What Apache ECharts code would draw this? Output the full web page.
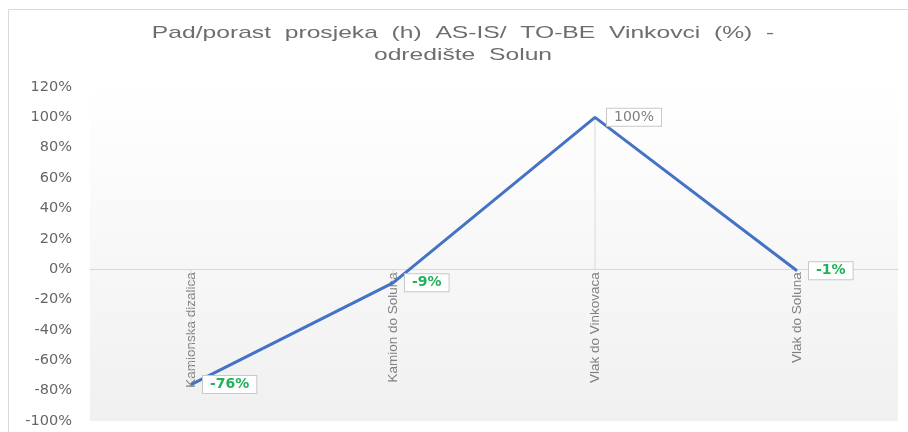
<!DOCTYPE html>
<html>
<head>
<meta charset="utf-8">
<script src="https://cdn.jsdelivr.net/npm/echarts@6/dist/echarts.min.js"></script>
<style>
  html, body { margin: 0; padding: 0; background: #ffffff; }
  #chart { width: 908px; height: 432px; }
</style>
</head>
<body>
<div id="chart"></div>
<script>
// Categories and percentage change values
const categories = ['Kamionska dizalica', 'Kamion do Soluna', 'Vlak do Vinkovaca', 'Vlak do Soluna'];
const changePct = [-76, -9, 100, -1];
const yTicks = { min: -100, max: 120, step: 20 };
const titleLines = ['Pad/porast  prosjeka  (h)  AS-IS/  TO-BE  Vinkovci  (%)  -', 'odredište  Solun'];

const POS_COLOR = '#7f7f7f';
const NEG_COLOR = '#1fb25a';

const W = 908, H = 432;
const GRID = { left: 90, right: 10, top: 87, bottom: 11 };
// the category axis sits on the 0% line: shift it up from the bottom of the plot
const gridHeight = H - GRID.top - GRID.bottom;
const zeroOffset = -gridHeight * (0 - yTicks.min) / (yTicks.max - yTicks.min);

const chart = echarts.init(document.getElementById('chart'), null, { renderer: 'canvas' });

const labelled = changePct.map(v => ({
  value: v,
  label: {
    color: v < 0 ? NEG_COLOR : POS_COLOR,
    fontWeight: v < 0 ? 'bold' : 'normal'
  }
}));

const titleFont = { fontFamily: 'Liberation Sans, Arial, sans-serif', fontSize: 17, fill: '#6e6e6e' };

chart.setOption({
  animation: false,
  backgroundColor: '#ffffff',
  graphic: [
    {
      type: 'rect',
      shape: { x: 8.5, y: 9.5, width: 920, height: 440 },
      style: { fill: 'none', stroke: '#d9d9d9', lineWidth: 1 },
      silent: true
    },
    {
      type: 'text',
      x: 463, y: 25, scaleX: 1.45,
      style: Object.assign({ text: titleLines[0], align: 'center', verticalAlign: 'top' }, titleFont),
      silent: true
    },
    {
      type: 'text',
      x: 463, y: 47, scaleX: 1.45,
      style: Object.assign({ text: titleLines[1], align: 'center', verticalAlign: 'top' }, titleFont),
      silent: true
    }
  ],
  grid: {
    left: GRID.left, right: GRID.right, top: GRID.top, bottom: GRID.bottom,
    containLabel: false,
    outerBoundsMode: 'none',
    show: true,
    borderWidth: 0,
    backgroundColor: new echarts.graphic.LinearGradient(0, 0, 0, 1, [
      { offset: 0, color: '#ffffff' },
      { offset: 1, color: '#f0f0f0' }
    ])
  },
  xAxis: {
    type: 'category',
    data: categories,
    boundaryGap: true,
    position: 'bottom',
    offset: zeroOffset,
    axisLine: { onZero: false, lineStyle: { color: '#d9d9d9', width: 1 } },
    axisTick: { show: false },
    axisLabel: {
      rotate: 90,
      margin: 3,
      color: '#808080',
      fontFamily: 'Liberation Sans, Arial, sans-serif',
      fontSize: 13.5,
      interval: 0,
      hideOverlap: false
    },
    splitLine: { show: false }
  },
  yAxis: {
    type: 'value',
    min: yTicks.min,
    max: yTicks.max,
    interval: yTicks.step,
    axisLine: { show: false },
    axisTick: { show: false },
    splitLine: { show: false },
    axisLabel: {
      formatter: '{value}%',
      margin: 18,
      color: '#666666',
      fontFamily: 'DejaVu Sans, sans-serif',
      fontSize: 14.5
    }
  },
  series: [
    {
      // drop lines from each point to the category axis
      type: 'bar',
      data: changePct,
      barWidth: 1,
      itemStyle: { color: '#d9d9d9' },
      silent: true,
      z: 1
    },
    {
      type: 'line',
      data: labelled,
      symbol: 'circle',
      symbolSize: 0,
      showSymbol: true,
      lineStyle: { color: '#4472c4', width: 3 },
      z: 3,
      label: {
        show: true,
        position: 'right',
        distance: 12,
        formatter: p => p.value + '%',
        fontFamily: 'DejaVu Sans, sans-serif',
        fontSize: 14,
        backgroundColor: '#ffffff',
        borderColor: '#c8c8c8',
        borderWidth: 1,
        padding: [2, 7, 1, 7]
      },
      labelLayout: { hideOverlap: false }
    }
  ]
});
</script>
</body>
</html>
